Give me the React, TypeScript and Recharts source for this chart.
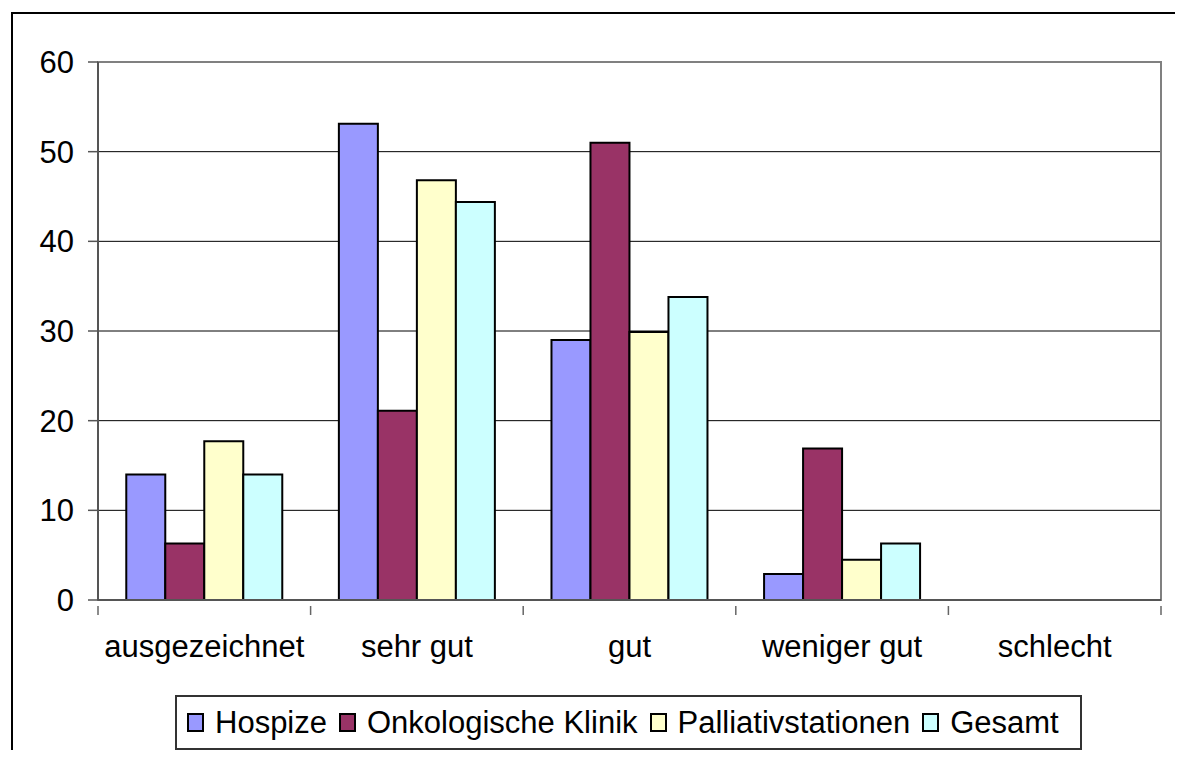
import React from 'react';
import {
  BarChart,
  Bar,
  XAxis,
  YAxis,
  CartesianGrid,
  Legend,
  ReferenceArea,
} from 'recharts';

const categories = ['ausgezeichnet', 'sehr gut', 'gut', 'weniger gut', 'schlecht'];
const hospize = [14, 53.1, 29, 2.9, 0];
const onkologische = [6.3, 21.1, 51, 16.9, 0];
const palliativ = [17.7, 46.8, 29.9, 4.5, 0];
const gesamt = [14, 44.4, 33.8, 6.3, 0];
const yTicks = [0, 10, 20, 30, 40, 50, 60];

const series = [
  { key: 'hospize', name: 'Hospize', color: '#9999FF' },
  { key: 'onko', name: 'Onkologische Klinik', color: '#993366' },
  { key: 'pall', name: 'Palliativstationen', color: '#FFFFCC' },
  { key: 'ges', name: 'Gesamt', color: '#CCFFFF' },
];

const data = categories.map((c, i) => ({
  name: c,
  hospize: hospize[i],
  onko: onkologische[i],
  pall: palliativ[i],
  ges: gesamt[i],
}));

const W = 1175;
const H = 750;
const margin = { top: 54, right: 22, left: 0, bottom: 3 };
const Y_AXIS_W = 90;
const PLOT_W = W - margin.left - margin.right - Y_AXIS_W;
const FONT = '"Liberation Sans", Arial, sans-serif';

// excel style: tick marks sit between categories, label in the middle
const CatTick = (props: any) => {
  const { x, y, payload, index } = props;
  const half = PLOT_W / categories.length / 2;
  return (
    <g>
      <line x1={x - half} x2={x - half} y1={y - 29} y2={y - 20} stroke="#666" strokeWidth={1.5} />
      {index === categories.length - 1 && (
        <line x1={x + half} x2={x + half} y1={y - 29} y2={y - 20} stroke="#666" strokeWidth={1.5} />
      )}
      <text x={x} y={y} dy="0.71em" textAnchor="middle" fill="#000" fontSize={31} fontFamily={FONT}>
        {payload.value}
      </text>
    </g>
  );
};

const LegendBox = () => (
  <div
    style={{
      display: 'flex',
      width: 'max-content',
      alignItems: 'center',
      border: '2px solid #333',
      height: 55,
      boxSizing: 'border-box',
      padding: '0 9px 0 10px',
      fontFamily: FONT,
      fontSize: 31,
      lineHeight: 1,
      color: '#000',
      background: '#fff',
      whiteSpace: 'nowrap',
    }}
  >
    {series.map((s) => (
      <span key={s.key} style={{ display: 'inline-flex', alignItems: 'center', marginRight: 12 }}>
        <span
          style={{
            display: 'inline-block',
            width: 17,
            height: 19,
            boxSizing: 'border-box',
            background: s.color,
            border: '2px solid #000',
            marginRight: 11,
          }}
        />
        {s.name}
      </span>
    ))}
  </div>
);

export default function App() {
  return (
    <div style={{ position: 'relative', width: W, height: 742 }}>
      <div style={{ position: 'absolute', left: 0, top: 0, width: W, height: H, overflow: 'hidden' }}>
        <BarChart
          width={W}
          height={H}
          data={data}
          margin={margin}
          barCategoryGap="13.3%"
          barGap={0}
        >
          {/* outer frame of the chart object, bottom edge is off-screen */}
          <path d="M4 760 V5 H1173 V760" fill="none" stroke="#000" strokeWidth={2} />
          <CartesianGrid vertical={false} stroke="#000" strokeWidth={1} />
          <ReferenceArea y1={0} y2={60} fill="none" stroke="#808080" strokeWidth={2} ifOverflow="visible" />
          <XAxis
            dataKey="name"
            tickLine={false}
            axisLine={{ stroke: '#555', strokeWidth: 2 }}
            tick={<CatTick />}
            tickMargin={29}
            height={100}
            interval={0}
          />
          <YAxis
            domain={[0, 60]}
            ticks={yTicks}
            width={Y_AXIS_W}
            axisLine={{ stroke: '#555', strokeWidth: 2 }}
            tickLine={{ stroke: '#555', strokeWidth: 1.5 }}
            tickSize={10}
            tickMargin={14}
            tick={{ fill: '#000', fontSize: 31, fontFamily: FONT }}
          />
          <Legend
            verticalAlign="bottom"
            content={() => <LegendBox />}
            wrapperStyle={{ left: 167, top: 687, bottom: 'auto', width: 'auto', height: 55, lineHeight: 0 }}
          />
          {series.map((s) => (
            <Bar
              key={s.key}
              dataKey={s.key}
              name={s.name}
              fill={s.color}
              stroke="#000"
              strokeWidth={2}
              isAnimationActive={false}
            />
          ))}
        </BarChart>
      </div>
    </div>
  );
}
